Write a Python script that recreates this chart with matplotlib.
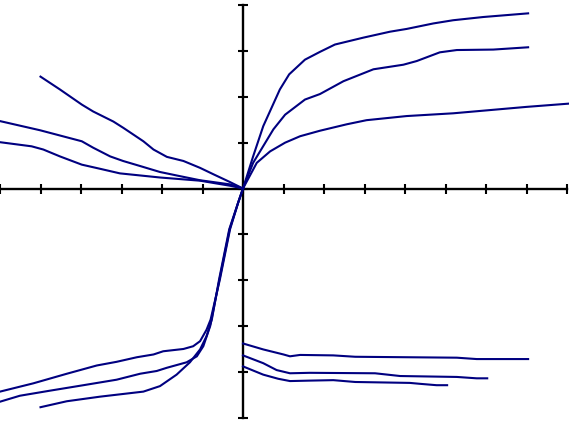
import matplotlib
matplotlib.use("Agg")
import matplotlib.pyplot as plt

# ---- data ----
# upper right
ur_top_x = [0, 0.25, 0.50, 0.91, 1.14, 1.53, 1.90, 2.27, 2.97, 3.63, 4.04, 4.70, 5.19, 5.93, 7.04]
ur_top_y = [0, 0.70, 1.36, 2.16, 2.49, 2.81, 2.98, 3.14, 3.29, 3.42, 3.48, 3.60, 3.67, 3.74, 3.82]
ur_mid_x = [0, 0.25, 0.75, 1.04, 1.53, 1.90, 2.48, 3.22, 3.96, 4.29, 4.86, 5.28, 6.18, 7.04]
ur_mid_y = [0, 0.56, 1.29, 1.61, 1.94, 2.06, 2.34, 2.60, 2.70, 2.78, 2.97, 3.02, 3.03, 3.08]
ur_low_x = [0, 0.34, 0.67, 1.04, 1.41, 1.90, 2.56, 3.05, 4.04, 5.19, 7.00, 8.03]
ur_low_y = [0, 0.56, 0.81, 1.00, 1.14, 1.26, 1.40, 1.49, 1.58, 1.64, 1.78, 1.85]

# upper left
ul_top_x = [-5.0, -4.52, -3.98, -3.70, -3.20, -2.95, -2.46, -2.21, -1.88, -1.47, -1.06, -0.73, -0.32, 0]
ul_top_y = [2.44, 2.16, 1.83, 1.68, 1.46, 1.32, 1.03, 0.85, 0.69, 0.60, 0.45, 0.31, 0.14, 0]
ul_mid_x = [-6.0, -5.01, -3.98, -3.70, -3.28, -2.96, -2.54, -2.05, -1.56, -1.06, -0.32, 0]
ul_mid_y = [1.47, 1.27, 1.03, 0.89, 0.70, 0.60, 0.49, 0.36, 0.27, 0.18, 0.09, 0]
ul_low_x = [-6.0, -5.22, -4.93, -4.52, -3.98, -3.53, -3.04, -2.05, -1.06, -0.32, 0]
ul_low_y = [1.01, 0.92, 0.85, 0.70, 0.52, 0.43, 0.33, 0.24, 0.17, 0.06, 0]

# lower left
ll_top_x = [-6.0, -5.18, -4.35, -3.61, -3.12, -2.62, -2.21, -1.97, -1.47, -1.23, -1.06, -0.90, -0.80, -0.57, -0.32, -0.12, 0]
ll_top_y = [-4.43, -4.25, -4.04, -3.86, -3.78, -3.68, -3.62, -3.55, -3.50, -3.44, -3.33, -3.08, -2.86, -1.98, -0.89, -0.31, 0]
ll_mid_x = [-6.0, -5.51, -4.77, -3.94, -3.12, -2.54, -2.13, -1.88, -1.39, -1.14, -0.98, -0.81, -0.58, -0.33, -0.12, 0]
ll_mid_y = [-4.65, -4.52, -4.41, -4.29, -4.17, -4.04, -3.98, -3.91, -3.79, -3.66, -3.44, -3.00, -1.98, -0.89, -0.31, 0]
ll_low_x = [-5.0, -4.35, -3.53, -2.46, -2.05, -1.64, -1.31, -1.06, -0.90, -0.77, -0.59, -0.34, -0.12, 0]
ll_low_y = [-4.77, -4.64, -4.54, -4.43, -4.31, -4.06, -3.79, -3.51, -3.22, -2.86, -1.98, -0.89, -0.31, 0]

# lower right
lr_top_x = [0, 0.50, 1.00, 1.16, 1.41, 2.23, 2.77, 5.28, 5.77, 7.04]
lr_top_y = [-3.38, -3.51, -3.62, -3.66, -3.63, -3.64, -3.67, -3.69, -3.72, -3.72]
lr_mid_x = [0, 0.50, 0.83, 1.16, 1.65, 3.26, 3.88, 5.28, 5.77, 6.03]
lr_mid_y = [-3.64, -3.81, -3.96, -4.03, -4.02, -4.03, -4.09, -4.11, -4.14, -4.14]
lr_low_x = [0, 0.50, 0.87, 1.16, 1.65, 2.23, 2.77, 4.12, 4.37, 4.78, 5.04]
lr_low_y = [-3.88, -4.06, -4.15, -4.20, -4.19, -4.18, -4.22, -4.24, -4.26, -4.29, -4.29]

x_ticks = list(range(-6, 9))
y_ticks = list(range(-5, 5))

series = [
    (ur_top_x, ur_top_y), (ur_mid_x, ur_mid_y), (ur_low_x, ur_low_y),
    (ul_top_x, ul_top_y), (ul_mid_x, ul_mid_y), (ul_low_x, ul_low_y),
    (ll_top_x, ll_top_y), (ll_mid_x, ll_mid_y), (ll_low_x, ll_low_y),
    (lr_top_x, lr_top_y), (lr_mid_x, lr_mid_y), (lr_low_x, lr_low_y),
]

fig = plt.figure(figsize=(5.69, 4.26), dpi=100)
ax = fig.add_axes([0, 0, 1, 1])

xs, ys = 40.5, 45.85
ax.set_xlim(-243 / xs, (569 - 243) / xs)
ax.set_ylim(-(426 - 188.5) / ys, 188.5 / ys)

for x, y in series:
    ax.plot(x, y, color="#000080", lw=1.5, solid_joinstyle="miter")

for s in ["top", "right"]:
    ax.spines[s].set_visible(False)
ax.spines["left"].set_position(("data", 0))
ax.spines["bottom"].set_position(("data", 0))
ax.spines["left"].set_bounds(-5, 4)
ax.spines["bottom"].set_bounds(-6, 8)
for s in ["left", "bottom"]:
    ax.spines[s].set_linewidth(1.7)
    ax.spines[s].set_color("black")
ax.spines["left"].set_zorder(0.5)
ax.spines["bottom"].set_zorder(0.5)

ax.set_xticks(x_ticks)
ax.set_yticks(y_ticks)
ax.set_xticklabels([])
ax.set_yticklabels([])
ax.tick_params(direction="inout", length=7, width=1.5, color="black")
ax.patch.set_alpha(0)

fig.savefig("out.png", dpi=100, facecolor="white")
